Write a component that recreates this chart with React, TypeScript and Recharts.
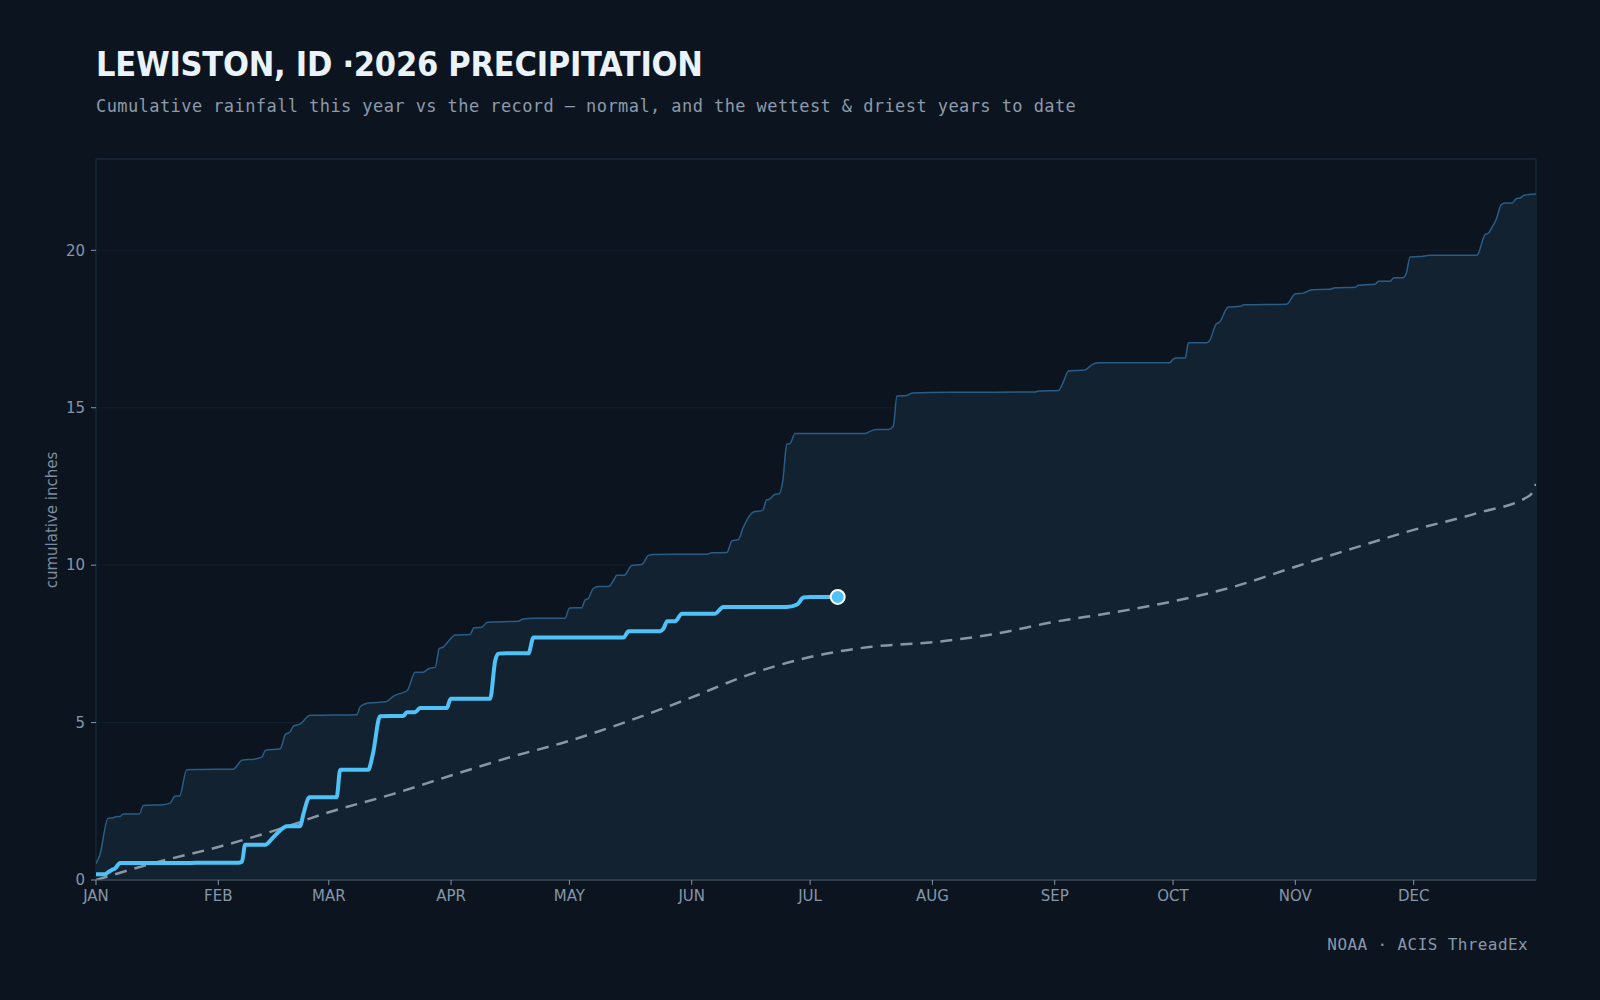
import React from "react";
import {
  ComposedChart,
  Area,
  Line,
  XAxis,
  YAxis,
  CartesianGrid,
  ReferenceArea,
  ReferenceDot
} from "recharts";

// [day of year, cumulative inches]
const RECORD: [number, number][] = [
  [0, 0.52], [1, 0.81], [3, 1.95], [4.4, 1.98], [5.3, 2.02], [6.1, 2.02], [6.9, 2.1], [11, 2.1],
  [12, 2.37], [17, 2.39], [18.8, 2.44], [20, 2.66], [21.2, 2.67], [23, 3.5], [26.4, 3.51], [34.8, 3.52],
  [37, 3.8], [40.7, 3.85], [42, 3.9], [43, 4.12], [46.7, 4.17], [48, 4.62], [49.2, 4.7], [50, 4.88],
  [51.7, 4.95], [54.3, 5.23], [66.1, 5.25], [67, 5.51], [69, 5.62], [73.5, 5.66], [75.5, 5.85],
  [77, 5.92], [78.9, 6.02], [80.9, 6.6], [82.9, 6.6], [84.3, 6.71], [86, 6.76], [87, 7.35], [88, 7.4],
  [89.6, 7.62], [91, 7.78], [94.8, 7.8], [95.8, 8.01], [97.8, 8.03], [99.2, 8.19], [107, 8.22],
  [108.3, 8.29], [110.9, 8.31], [118.9, 8.31], [120, 8.64], [123.1, 8.65], [124, 8.9], [124.7, 8.93],
  [126, 9.25], [127.4, 9.32], [129.9, 9.32], [131.2, 9.52], [132, 9.68], [133.9, 9.68], [135.8, 9.99],
  [138.4, 10.02], [140, 10.31], [141.5, 10.34], [154.8, 10.35], [156.1, 10.39], [159.9, 10.4],
  [161.2, 10.77], [162.8, 10.81], [164.1, 11.21], [166.6, 11.69], [169, 11.74], [170, 12.08],
  [170.4, 12.08], [172.1, 12.25], [173.2, 12.27], [174.1, 12.69], [175.1, 13.84], [175.9, 13.86],
  [177.2, 14.18], [194.9, 14.18], [196.2, 14.25], [197.9, 14.31], [200.9, 14.31], [202.1, 14.41],
  [203, 15.37], [205.5, 15.39], [207, 15.47], [217.3, 15.49], [238, 15.5], [238.9, 15.53], [244, 15.55],
  [245.2, 15.82], [246.5, 16.17], [250.6, 16.2], [252.5, 16.37], [254, 16.43], [272.1, 16.43],
  [273.1, 16.55], [274, 16.58], [276.1, 16.58], [276.9, 17.06], [281.4, 17.06], [282.2, 17.12],
  [283.9, 17.65], [284.8, 17.72], [287, 18.2], [290, 18.22], [291, 18.27], [301.8, 18.29], [304, 18.62],
  [306, 18.64], [308.2, 18.75], [312.8, 18.76], [314.1, 18.81], [319.2, 18.83], [320, 18.89],
  [324.2, 18.92], [325.1, 19.02], [328, 19.02], [329, 19.13], [331.3, 19.13], [332.1, 19.26],
  [333.1, 19.79], [335.6, 19.8], [338.2, 19.84], [350, 19.84], [352.1, 20.5], [353, 20.55],
  [353.8, 20.72], [354.9, 20.98], [356.2, 21.45], [357.2, 21.5], [358.9, 21.5], [360, 21.64],
  [361, 21.66], [362, 21.75], [365, 21.79]
];

const NORMAL: [number, number][] = [
  [0, 0], [15, 0.55], [31, 1.05], [46, 1.6], [59, 2.15], [75, 2.72], [90, 3.32], [105, 3.9],
  [120, 4.42], [135, 5.05], [151, 5.8], [165, 6.5], [181, 7.08], [196, 7.4], [212, 7.55], [227, 7.8],
  [243, 8.2], [258, 8.5], [273, 8.85], [288, 9.3], [304, 9.95], [319, 10.55], [334, 11.12],
  [350, 11.65], [363.5, 12.22], [365, 12.58]
];

const THIS_YEAR: [number, number][] = [
  [0, 0.18], [2.3, 0.18], [3.1, 0.25], [4, 0.32], [4.8, 0.36], [6.1, 0.54], [23.9, 0.54], [27.2, 0.55],
  [36.1, 0.55], [37, 0.58], [37.8, 1.12], [42.9, 1.12], [44.6, 1.31], [46.2, 1.52], [48.4, 1.71],
  [51.7, 1.71], [52.6, 2.11], [54.1, 2.63], [61, 2.63], [61.9, 3.5], [69, 3.5], [70.2, 4.01], [72, 5.2],
  [77.9, 5.21], [78.8, 5.33], [80.9, 5.33], [82.1, 5.46], [88.9, 5.46], [89.9, 5.76], [99.9, 5.76],
  [101.2, 6.98], [102, 7.19], [104.1, 7.2], [109.6, 7.2], [110.9, 7.7], [133.7, 7.7], [135, 7.9],
  [143, 7.9], [143.8, 7.98], [144.8, 8.22], [146.8, 8.22], [148.5, 8.46], [156.9, 8.46], [159, 8.67],
  [175.1, 8.67], [177.7, 8.75], [179.3, 8.97], [181, 8.99], [188, 8.99]
];

const MONTH_STARTS = [0, 31, 59, 90, 120, 151, 181, 212, 243, 273, 304, 334];
const MONTH_LABELS = ["JAN", "FEB", "MAR", "APR", "MAY", "JUN", "JUL", "AUG", "SEP", "OCT", "NOV", "DEC"];
const Y_TICKS = [0, 5, 10, 15, 20];
const Y_MAX = 22.9;

type Row = { day: number; record?: number; normal?: number; now?: number };

function mergeSeries(): Row[] {
  const rows = new Map<string, Row>();
  const put = (pts: [number, number][], key: "record" | "normal" | "now") => {
    for (const [day, v] of pts) {
      const k = day.toFixed(1);
      const row = rows.get(k) ?? { day };
      row[key] = v;
      rows.set(k, row);
    }
  };
  put(RECORD, "record");
  put(NORMAL, "normal");
  put(THIS_YEAR, "now");
  return [...rows.values()].sort((a, b) => a.day - b.day);
}

const BG = "#0c151f";
const TICK = { fill: "#8596aa", fontSize: 15, fontFamily: "DejaVu Sans" };

export default function App() {
  const data = mergeSeries();
  const last = THIS_YEAR[THIS_YEAR.length - 1];
  return (
    <div style={{ position: "fixed", left: 0, top: 0, width: 1600, height: 1000, background: BG }}>
      <ComposedChart width={1600} height={1000} data={data} margin={{ top: 159, right: 64, bottom: 90, left: 56 }}>
        <CartesianGrid vertical={false} stroke="#131f2c" />
        <ReferenceArea x1={0} x2={365} y1={0} y2={Y_MAX} fill="none" stroke="#1a2c3e" strokeWidth={1} />
        <XAxis
          type="number"
          dataKey="day"
          domain={[0, 365]}
          ticks={MONTH_STARTS}
          interval={0}
          tickFormatter={(d: number) => MONTH_LABELS[MONTH_STARTS.indexOf(d)] ?? ""}
          tick={TICK}
          tickSize={5}
          tickMargin={5}
          height={30}
          stroke="#4d5863"
          tickLine={{ stroke: "#8596aa" }}
          allowDataOverflow
        />
        <YAxis
          type="number"
          domain={[0, Y_MAX]}
          ticks={Y_TICKS}
          interval={0}
          tick={TICK}
          tickSize={5}
          tickMargin={6}
          width={40}
          axisLine={false}
          tickLine={{ stroke: "#8596aa" }}
          allowDataOverflow
        />
        <Area
          type="monotone"
          dataKey="record"
          connectNulls
          stroke="#2a5d86"
          strokeWidth={1.5}
          fill="#122231"
          fillOpacity={1}
          dot={false}
          activeDot={false}
          isAnimationActive={false}
        />
        <Line
          type="monotone"
          dataKey="normal"
          connectNulls
          stroke="#8a96a3"
          strokeWidth={2.5}
          strokeDasharray="12 8"
          dot={false}
          activeDot={false}
          isAnimationActive={false}
        />
        <Line
          type="monotone"
          dataKey="now"
          connectNulls
          stroke="#4fc3f7"
          strokeWidth={4}
          dot={false}
          activeDot={false}
          isAnimationActive={false}
        />
        <ReferenceDot x={last[0]} y={last[1]} r={7} fill="#4fc3f7" stroke="#ffffff" strokeWidth={2} />
      </ComposedChart>
      <svg width={1600} height={1000} style={{ position: "absolute", left: 0, top: 0, pointerEvents: "none" }}>
        <text
          x={96}
          y={75.5}
          fill="#eaf2fa"
          fontSize={34}
          fontWeight={700}
          fontFamily="DejaVu Sans"
          fontStretch="condensed"
          letterSpacing={-0.25}
        >
          LEWISTON, ID ·2026 PRECIPITATION
        </text>
        <text x={96} y={111.5} fill="#8d9aab" fontSize={17} letterSpacing={0.42} fontFamily="DejaVu Sans Mono">
          Cumulative rainfall this year vs the record — normal, and the wettest &amp; driest years to date
        </text>
        <text
          transform="translate(57, 520) rotate(-90)"
          textAnchor="middle"
          fill="#7d8da0"
          fontSize={15}
          fontFamily="DejaVu Sans"
        >
          cumulative inches
        </text>
        <text x={1528} y={950} textAnchor="end" fill="#8898aa" fontSize={16} letterSpacing={0.4} fontFamily="DejaVu Sans Mono">
          NOAA · ACIS ThreadEx
        </text>
      </svg>
    </div>
  );
}
